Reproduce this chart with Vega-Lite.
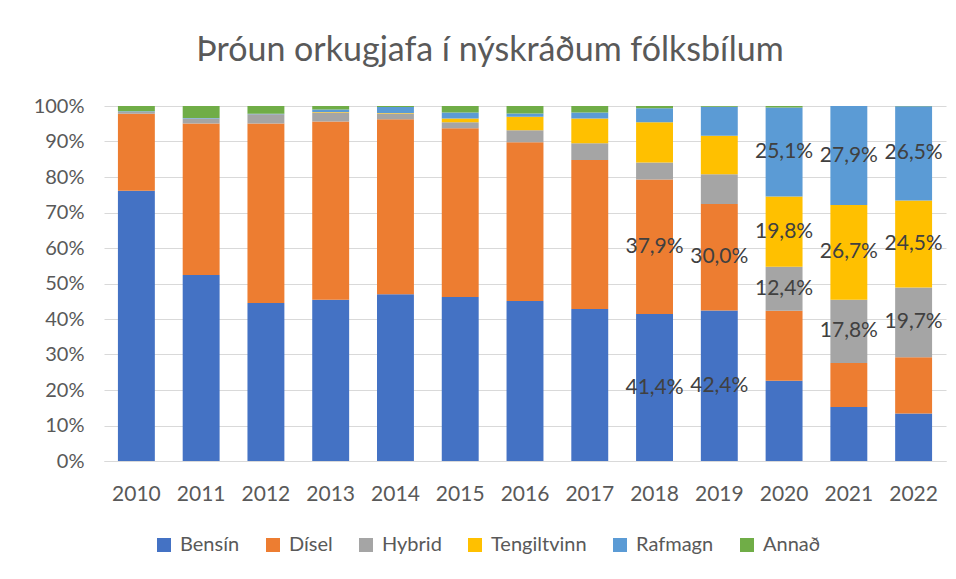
{
  "$schema": "https://vega.github.io/schema/vega-lite/v6.json",
  "width": 842,
  "height": 355,
  "autosize": {"type": "none"},
  "padding": {"left": 104, "top": 106, "right": 10, "bottom": 118},
  "background": "white",
  "title": {
    "text": "Þróun orkugjafa í nýskráðum fólksbílum",
    "font": "Lato",
    "fontSize": 34,
    "fontWeight": "normal",
    "color": "#595959",
    "anchor": "middle",
    "dx": -35,
    "offset": 27
  },
  "data": {
    "values": [
      {"year": "2010", "type": "Bensín", "value": 76.1, "label": ""},
      {"year": "2010", "type": "Dísel", "value": 21.7, "label": ""},
      {"year": "2010", "type": "Hybrid", "value": 0.6, "label": ""},
      {"year": "2010", "type": "Tengiltvinn", "value": 0, "label": ""},
      {"year": "2010", "type": "Rafmagn", "value": 0.1, "label": ""},
      {"year": "2010", "type": "Annað", "value": 1.5, "label": ""},
      {"year": "2011", "type": "Bensín", "value": 52.4, "label": ""},
      {"year": "2011", "type": "Dísel", "value": 42.7, "label": ""},
      {"year": "2011", "type": "Hybrid", "value": 1.4, "label": ""},
      {"year": "2011", "type": "Tengiltvinn", "value": 0, "label": ""},
      {"year": "2011", "type": "Rafmagn", "value": 0.1, "label": ""},
      {"year": "2011", "type": "Annað", "value": 3.4, "label": ""},
      {"year": "2012", "type": "Bensín", "value": 44.5, "label": ""},
      {"year": "2012", "type": "Dísel", "value": 50.6, "label": ""},
      {"year": "2012", "type": "Hybrid", "value": 2.6, "label": ""},
      {"year": "2012", "type": "Tengiltvinn", "value": 0, "label": ""},
      {"year": "2012", "type": "Rafmagn", "value": 0.1, "label": ""},
      {"year": "2012", "type": "Annað", "value": 2.2, "label": ""},
      {"year": "2013", "type": "Bensín", "value": 45.4, "label": ""},
      {"year": "2013", "type": "Dísel", "value": 50.2, "label": ""},
      {"year": "2013", "type": "Hybrid", "value": 2.6, "label": ""},
      {"year": "2013", "type": "Tengiltvinn", "value": 0.1, "label": ""},
      {"year": "2013", "type": "Rafmagn", "value": 0.7, "label": ""},
      {"year": "2013", "type": "Annað", "value": 1.0, "label": ""},
      {"year": "2014", "type": "Bensín", "value": 47.0, "label": ""},
      {"year": "2014", "type": "Dísel", "value": 49.3, "label": ""},
      {"year": "2014", "type": "Hybrid", "value": 1.6, "label": ""},
      {"year": "2014", "type": "Tengiltvinn", "value": 0.1, "label": ""},
      {"year": "2014", "type": "Rafmagn", "value": 1.7, "label": ""},
      {"year": "2014", "type": "Annað", "value": 0.3, "label": ""},
      {"year": "2015", "type": "Bensín", "value": 46.2, "label": ""},
      {"year": "2015", "type": "Dísel", "value": 47.5, "label": ""},
      {"year": "2015", "type": "Hybrid", "value": 1.7, "label": ""},
      {"year": "2015", "type": "Tengiltvinn", "value": 1.1, "label": ""},
      {"year": "2015", "type": "Rafmagn", "value": 1.7, "label": ""},
      {"year": "2015", "type": "Annað", "value": 1.8, "label": ""},
      {"year": "2016", "type": "Bensín", "value": 45.1, "label": ""},
      {"year": "2016", "type": "Dísel", "value": 44.7, "label": ""},
      {"year": "2016", "type": "Hybrid", "value": 3.4, "label": ""},
      {"year": "2016", "type": "Tengiltvinn", "value": 3.8, "label": ""},
      {"year": "2016", "type": "Rafmagn", "value": 0.9, "label": ""},
      {"year": "2016", "type": "Annað", "value": 2.1, "label": ""},
      {"year": "2017", "type": "Bensín", "value": 42.8, "label": ""},
      {"year": "2017", "type": "Dísel", "value": 42.0, "label": ""},
      {"year": "2017", "type": "Hybrid", "value": 4.7, "label": ""},
      {"year": "2017", "type": "Tengiltvinn", "value": 7.0, "label": ""},
      {"year": "2017", "type": "Rafmagn", "value": 1.7, "label": ""},
      {"year": "2017", "type": "Annað", "value": 1.8, "label": ""},
      {"year": "2018", "type": "Bensín", "value": 41.4, "label": "41,4%"},
      {"year": "2018", "type": "Dísel", "value": 37.9, "label": "37,9%"},
      {"year": "2018", "type": "Hybrid", "value": 4.8, "label": ""},
      {"year": "2018", "type": "Tengiltvinn", "value": 11.3, "label": ""},
      {"year": "2018", "type": "Rafmagn", "value": 4.0, "label": ""},
      {"year": "2018", "type": "Annað", "value": 0.6, "label": ""},
      {"year": "2019", "type": "Bensín", "value": 42.4, "label": "42,4%"},
      {"year": "2019", "type": "Dísel", "value": 30.0, "label": "30,0%"},
      {"year": "2019", "type": "Hybrid", "value": 8.4, "label": ""},
      {"year": "2019", "type": "Tengiltvinn", "value": 10.8, "label": ""},
      {"year": "2019", "type": "Rafmagn", "value": 8.2, "label": ""},
      {"year": "2019", "type": "Annað", "value": 0.2, "label": ""},
      {"year": "2020", "type": "Bensín", "value": 22.6, "label": ""},
      {"year": "2020", "type": "Dísel", "value": 19.7, "label": ""},
      {"year": "2020", "type": "Hybrid", "value": 12.4, "label": "12,4%"},
      {"year": "2020", "type": "Tengiltvinn", "value": 19.8, "label": "19,8%"},
      {"year": "2020", "type": "Rafmagn", "value": 25.1, "label": "25,1%"},
      {"year": "2020", "type": "Annað", "value": 0.4, "label": ""},
      {"year": "2021", "type": "Bensín", "value": 15.2, "label": ""},
      {"year": "2021", "type": "Dísel", "value": 12.4, "label": ""},
      {"year": "2021", "type": "Hybrid", "value": 17.8, "label": "17,8%"},
      {"year": "2021", "type": "Tengiltvinn", "value": 26.7, "label": "26,7%"},
      {"year": "2021", "type": "Rafmagn", "value": 27.9, "label": "27,9%"},
      {"year": "2021", "type": "Annað", "value": 0.0, "label": ""},
      {"year": "2022", "type": "Bensín", "value": 13.4, "label": ""},
      {"year": "2022", "type": "Dísel", "value": 15.8, "label": ""},
      {"year": "2022", "type": "Hybrid", "value": 19.7, "label": "19,7%"},
      {"year": "2022", "type": "Tengiltvinn", "value": 24.5, "label": "24,5%"},
      {"year": "2022", "type": "Rafmagn", "value": 26.5, "label": "26,5%"},
      {"year": "2022", "type": "Annað", "value": 0.1, "label": ""}
    ]
  },
  "transform": [
    {"calculate": "indexof(['Bensín','Dísel','Hybrid','Tengiltvinn','Rafmagn','Annað'], datum.type)", "as": "stackOrder"}
  ],
  "encoding": {
    "x": {
      "field": "year",
      "type": "nominal",
      "title": null,
      "scale": {"paddingInner": 0.43, "paddingOuter": 0.215},
      "axis": {
        "labelAngle": 0,
        "labelFont": "Lato",
        "labelFontSize": 21,
        "labelColor": "#595959",
        "labelPadding": 22,
        "ticks": false,
        "domainColor": "#d9d9d9",
        "domainWidth": 1,
        "grid": false
      }
    },
    "y": {
      "field": "value",
      "type": "quantitative",
      "stack": "normalize",
      "title": null,
      "scale": {"domain": [0, 1], "nice": false},
      "axis": {
        "values": [0, 0.1, 0.2, 0.3, 0.4, 0.5, 0.6, 0.7, 0.8, 0.9, 1],
        "format": ".0%",
        "labelFont": "Lato",
        "labelFontSize": 20,
        "labelColor": "#595959",
        "labelPadding": 20,
        "ticks": false,
        "domain": false,
        "gridColor": "#d9d9d9",
        "gridWidth": 1
      }
    },
    "order": {"field": "stackOrder", "type": "quantitative", "sort": "ascending"},
    "color": {
      "field": "type",
      "type": "nominal",
      "sort": ["Bensín", "Dísel", "Hybrid", "Tengiltvinn", "Rafmagn", "Annað"],
      "scale": {
        "domain": ["Bensín", "Dísel", "Hybrid", "Tengiltvinn", "Rafmagn", "Annað"],
        "range": ["#4472C4", "#ED7D31", "#A5A5A5", "#FFC000", "#5B9BD5", "#70AD47"]
      },
      "legend": {
        "title": null,
        "orient": "none",
        "direction": "horizontal",
        "legendX": 50,
        "legendY": 429,
        "symbolType": "square",
        "symbolSize": 196,
        "symbolStrokeWidth": 0,
        "symbolOpacity": 1,
        "labelFont": "Lato",
        "labelFontSize": 20,
        "labelColor": "#595959",
        "columnPadding": 23,
        "labelOffset": 6
      }
    }
  },
  "layer": [
    {"mark": {"type": "bar"}},
    {
      "mark": {"type": "text", "font": "Lato", "fontSize": 21, "baseline": "middle", "align": "center"},
      "encoding": {
        "y": {"field": "value", "type": "quantitative", "stack": "normalize", "bandPosition": 0.5},
        "text": {"field": "label"},
        "fill": {"value": "#404040"}
      }
    }
  ],
  "config": {"view": {"stroke": null}}
}
